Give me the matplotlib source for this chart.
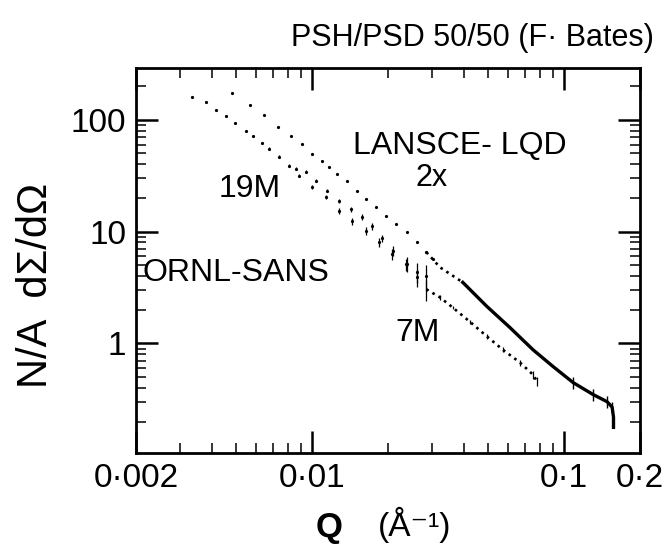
import numpy as np
import matplotlib.pyplot as plt
from matplotlib.ticker import LogLocator, FixedLocator, FixedFormatter, NullFormatter

plt.rcParams['font.family'] = ['Liberation Sans', 'DejaVu Sans']

# LANSCE-LQD (x2)
q_lansce = [0.00480, 0.00566, 0.00644, 0.00732, 0.00824, 0.00912, 0.0100, 0.0109,
            0.0117, 0.0126, 0.0137, 0.0151, 0.0164, 0.0180, 0.0197, 0.0216, 0.0237,
            0.0260, 0.0284, 0.0301, 0.0321, 0.0396, 0.0493, 0.0609, 0.0752, 0.0904,
            0.1086, 0.1305, 0.148, 0.155, 0.157, 0.157]
i_lansce = [175, 136, 111, 86.5, 71.9, 61.0, 49.6, 42.9,
            37.9, 32.8, 28.4, 23.1, 19.6, 16.6, 13.8, 11.7, 9.9,
            8.05, 6.55, 5.67, 4.81, 3.52, 2.15, 1.39, 0.88, 0.622,
            0.447, 0.349, 0.302, 0.27, 0.22, 0.178]

# ORNL-SANS 19M
q_19m = [0.00333, 0.00378, 0.00415, 0.00454, 0.00493, 0.00546, 0.00582, 0.0063,
         0.00674, 0.00739, 0.00810, 0.00888, 0.0100, 0.0114, 0.0128, 0.0144, 0.0164,
         0.0185, 0.0208, 0.0237, 0.0260, 0.0284]
i_19m = [161, 145, 123, 109, 94, 79.7, 72, 62,
         54.9, 46.6, 38.7, 31.5, 25.1, 20.4, 15.3, 12.4, 10.1,
         8.05, 6.28, 5.11, 4.33, 3.99]
err_19m = [0.02, 0.02, 0.02, 0.02, 0.02, 0.02, 0.02, 0.02,
           0.03, 0.03, 0.03, 0.03, 0.04, 0.05, 0.06, 0.07, 0.08,
           0.10, 0.12, 0.15, 0.20, 0.25]

# ORNL-SANS 7M
q_7m = [0.00863, 0.00946, 0.0104, 0.0115, 0.0128, 0.0143, 0.0157, 0.0173, 0.0190,
        0.0210, 0.0235, 0.0260, 0.0284, 0.0321, 0.0361, 0.0422, 0.0493, 0.0571,
        0.0668, 0.0752, 0.078]
i_7m = [36.4, 34.2, 28.4, 23.1, 18.8, 15.9, 13.5, 11.2, 8.7,
        6.7, 5.1, 3.9, 3.05, 2.59, 2.10, 1.57, 1.16, 0.88,
        0.676, 0.527, 0.46]
err_7m = [0.03, 0.03, 0.03, 0.03, 0.04, 0.05, 0.06, 0.07, 0.08,
          0.10, 0.12, 0.18, 0.22, 0.05, 0.04, 0.04, 0.05, 0.05,
          0.06, 0.08, 0.10]

x_ticks = [0.002, 0.01, 0.1, 0.2]
x_ticklabels = ['0\u00b7002', '0\u00b701', '0\u00b71', '0\u00b72']
y_ticks = [1, 10, 100]
y_ticklabels = ['1', '10', '100']

W, H = 665, 548
fig = plt.figure(figsize=(W / 100, H / 100), dpi=100)
ax = fig.add_axes([136 / W, 1 - 453 / H, (640 - 136) / W, (453 - 68) / H])

def fpos(x, y):
    return x / W, 1 - y / H

ql, il = np.array(q_lansce), np.array(i_lansce)
q19, i19, e19 = np.array(q_19m), np.array(i_19m), np.array(err_19m)
q7, i7, e7 = np.array(q_7m), np.array(i_7m), np.array(err_7m)

# LANSCE: sparse dots at low Q, dense dots, then a solid noisy line
ax.plot(ql[:20], il[:20], 'o', ms=2.3, color='black', mec='none')
ax.plot(ql[18:22], il[18:22], ':', lw=1.9, color='black')
ax.plot(ql[21:], il[21:], '-', lw=2.4, color='black')
ax.vlines(ql[-6:-2], il[-6:-2] * 0.88, il[-6:-2] * 1.12, color='black', lw=1.0)

# 19M
ax.plot(q19, i19, 'o', ms=2.3, color='black', mec='none')
ax.vlines(q19, i19 * (1 - e19), i19 * (1 + e19), color='black', lw=0.9)

# 7M
ax.plot(q7[:12], i7[:12], 'o', ms=2.3, color='black', mec='none')
ax.plot(q7[12:], i7[12:], ':', lw=1.9, color='black')
ax.vlines(q7, i7 * (1 - e7), i7 * (1 + e7), color='black', lw=0.9)

ax.set_xscale('log')
ax.set_yscale('log')
ax.set_xlim(0.002, 0.2)
ax.set_ylim(0.105, 290)

ax.xaxis.set_major_locator(FixedLocator(x_ticks))
ax.xaxis.set_major_formatter(FixedFormatter(x_ticklabels))
ax.xaxis.set_minor_locator(LogLocator(base=10, subs=np.arange(2, 10)))
ax.xaxis.set_minor_formatter(NullFormatter())
ax.yaxis.set_major_locator(FixedLocator(y_ticks))
ax.yaxis.set_major_formatter(FixedFormatter(y_ticklabels))
ax.yaxis.set_minor_locator(LogLocator(base=10, subs=np.arange(2, 10)))
ax.yaxis.set_minor_formatter(NullFormatter())

ax.tick_params(which='major', direction='in', length=16, width=1.8,
               top=True, right=True, labelsize=24, pad=7)
ax.tick_params(which='minor', direction='in', length=7, width=1.1,
               top=True, right=True)
for s in ax.spines.values():
    s.set_linewidth(2)

fig.text(*fpos(472, 38), 'PSH/PSD 50/50 (F\u00b7 Bates)', fontsize=22,
         ha='center', va='center')
fig.text(*fpos(36, 285), 'N/A  d\u03a3/d\u03a9', fontsize=30, rotation=90,
         ha='center', va='center')
fig.text(*fpos(329, 527), 'Q', fontsize=25, fontweight='bold',
         ha='center', va='center')
fig.text(*fpos(415, 525), '(\u00c5\u207b\u00b9)', fontsize=24,
         ha='center', va='center')

fig.text(*fpos(460, 146), 'LANSCE- LQD', fontsize=23, ha='center', va='center')
fig.text(*fpos(432, 178), '2x', fontsize=22, ha='center', va='center')
fig.text(*fpos(250, 189), '19M', fontsize=23, ha='center', va='center')
fig.text(*fpos(142, 273), 'ORNL-SANS', fontsize=23, ha='left', va='center')
fig.text(*fpos(418, 333), '7M', fontsize=23, ha='center', va='center')

fig.savefig('out.png', dpi=100)
